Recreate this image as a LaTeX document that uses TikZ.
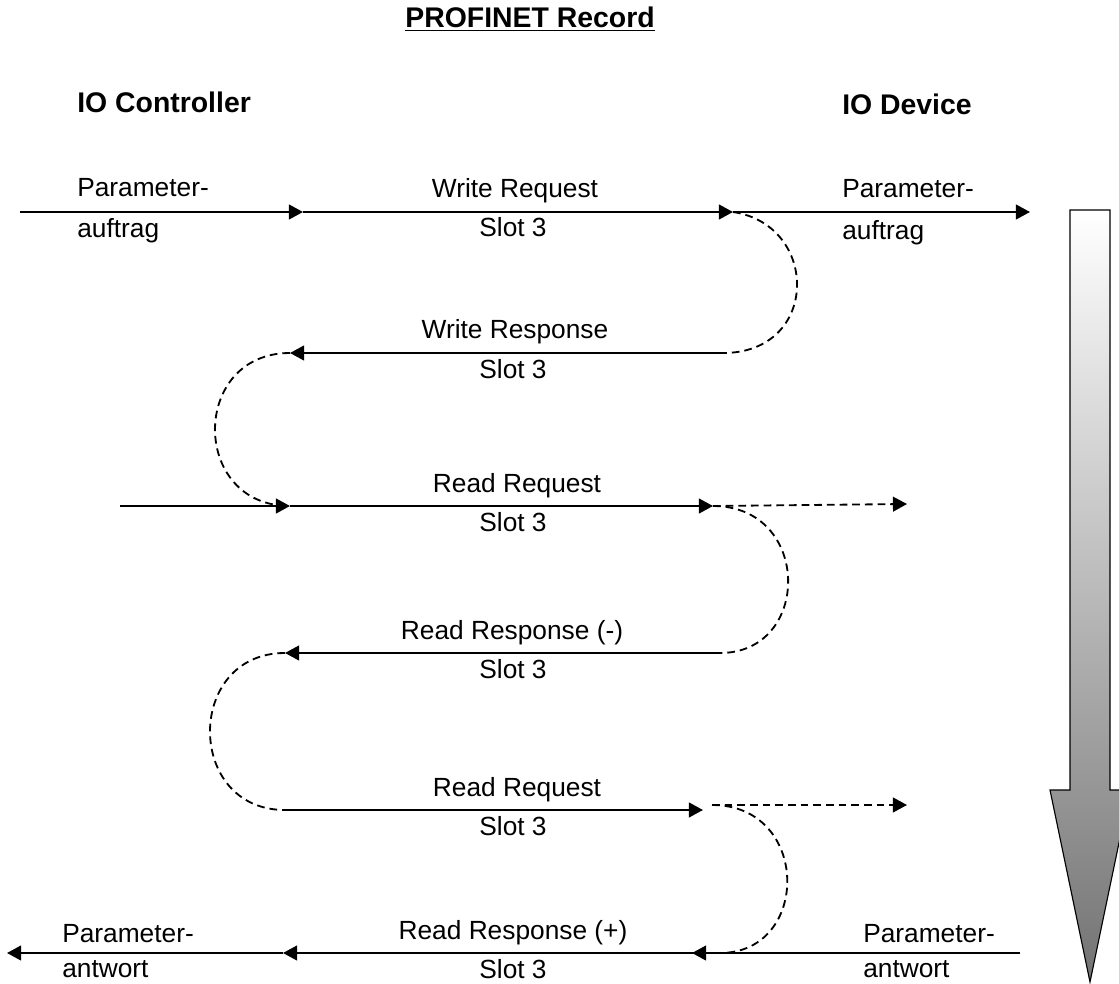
\documentclass[tikz,border=0pt]{standalone}
\usepackage{fontspec}
\setmainfont{Liberation Sans}
\usepackage{tikz}
\usetikzlibrary{calc}
\usetikzlibrary{positioning}
\usetikzlibrary{arrows.meta}

\begin{document}
\begin{tikzpicture}[x=0.025cm,y=-0.025cm,
  msg/.style={line width=1.3pt,-{Triangle[length=10pt,width=10.5pt]}},
  wait/.style={line width=1.3pt,dash pattern=on 5.5pt off 3.5pt},
  txt/.style={inner sep=0pt,anchor=base,font=\fontsize{18.7}{22}\selectfont},
  head/.style={inner sep=0pt,anchor=base west,font=\fontsize{20.2}{24}\selectfont\bfseries}]
 \useasboundingbox (0,0) rectangle (1119,984);
 \node [head,anchor=base east] (title) at (655,28) {\underline{PROFINET Record}};
 \node [head] (ctrl) at (77,113) {IO Controller};
 \node [head] (dev) at (842,115) {IO Device};
 % time axis
 \shadedraw[top color=white,bottom color=black!55,line width=0.8pt]
   (1070,210) -- (1110,210) -- (1110,790) -- (1130,790) -- (1090,982)
   -- (1050,790) -- (1070,790) -- cycle;
 % end points of the messages
 \coordinate (p1) at (20,212);  \coordinate (q1) at (303,212);
 \coordinate (r1) at (733,212); \coordinate (s1) at (1030,212);
 \coordinate (r2) at (723,353); \coordinate (q2) at (290,353);
 \coordinate (p3) at (120,506); \coordinate (q3) at (290,506);
 \coordinate (r3) at (713,506); \coordinate (s3) at (907,504);
 \coordinate (r4) at (720,653); \coordinate (q4) at (285,653);
 \coordinate (q5) at (285,810); \coordinate (r5) at (703,810);
 \coordinate (t5) at (712,805); \coordinate (s5) at (907,805);
 \coordinate (s6) at (1020,953); \coordinate (r6) at (692,953);
 \coordinate (u6) at (720,953); \coordinate (q6) at (283,953);
 \coordinate (p6) at (7,953);
 \draw[msg] (p1) -- (q1);
 \draw[msg] (q1) -- (r1);
 \draw[msg] (r1) -- (s1);
 \draw[msg] (r2) -- (q2);
 \draw[msg] (p3) -- (q3);
 \draw[msg] (q3) -- (r3);
 \draw[msg] (r4) -- (q4);
 \draw[msg] (q5) -- (r5);
 \draw[msg] (s6) -- (r6);
 \draw[msg] (u6) -- (q6);
 \draw[msg] (q6) -- (p6);
 \draw[msg,wait] (r3) -- (s3);
 \draw[msg,wait] (t5) -- (s5);
 \draw[wait] (r1) .. controls +(87,13) and +(97,0) .. (r2);
 \draw[wait] (q2) .. controls +(-100,0) and +(-100,0) .. (q3);
 \draw[wait] (r3) .. controls +(99,0) and +(92,0) .. (r4);
 \draw[wait] (q4) .. controls +(-100,0) and +(-100,0) .. (q5);
 \draw[wait] (t5) .. controls +(99,0) and +(91,0) .. (u6);
 % message labels
 \foreach \y/\lab/\x [count=\i] in {212/Write Request/515, 353/Write Response/515,
   506/Read Request/517, 653/Read Response (-)/512, 810/Read Request/517,
   953/Read Response (+)/513} {
  \node [txt] (msg\i) at (\x,\y-14) {\lab};
  \node [txt] (slot\i) at (513,\y+25) {Slot 3};
 }
 \node [txt,anchor=base west] (auftragl1) at (77,197) {Parameter-};
 \node [txt,anchor=base west] (auftragl2) at (77,238) {auftrag};
 \node [txt,anchor=base west] (auftragr1) at (842,198) {Parameter-};
 \node [txt,anchor=base west] (auftragr2) at (842,240) {auftrag};
 \node [txt,anchor=base west] (antwortl1) at (62,942) {Parameter-};
 \node [txt,anchor=base west] (antwortl2) at (62,977) {antwort};
 \node [txt,anchor=base west] (antwortr1) at (863,942) {Parameter-};
 \node [txt,anchor=base west] (antwortr2) at (863,977) {antwort};
\end{tikzpicture}
\end{document}
